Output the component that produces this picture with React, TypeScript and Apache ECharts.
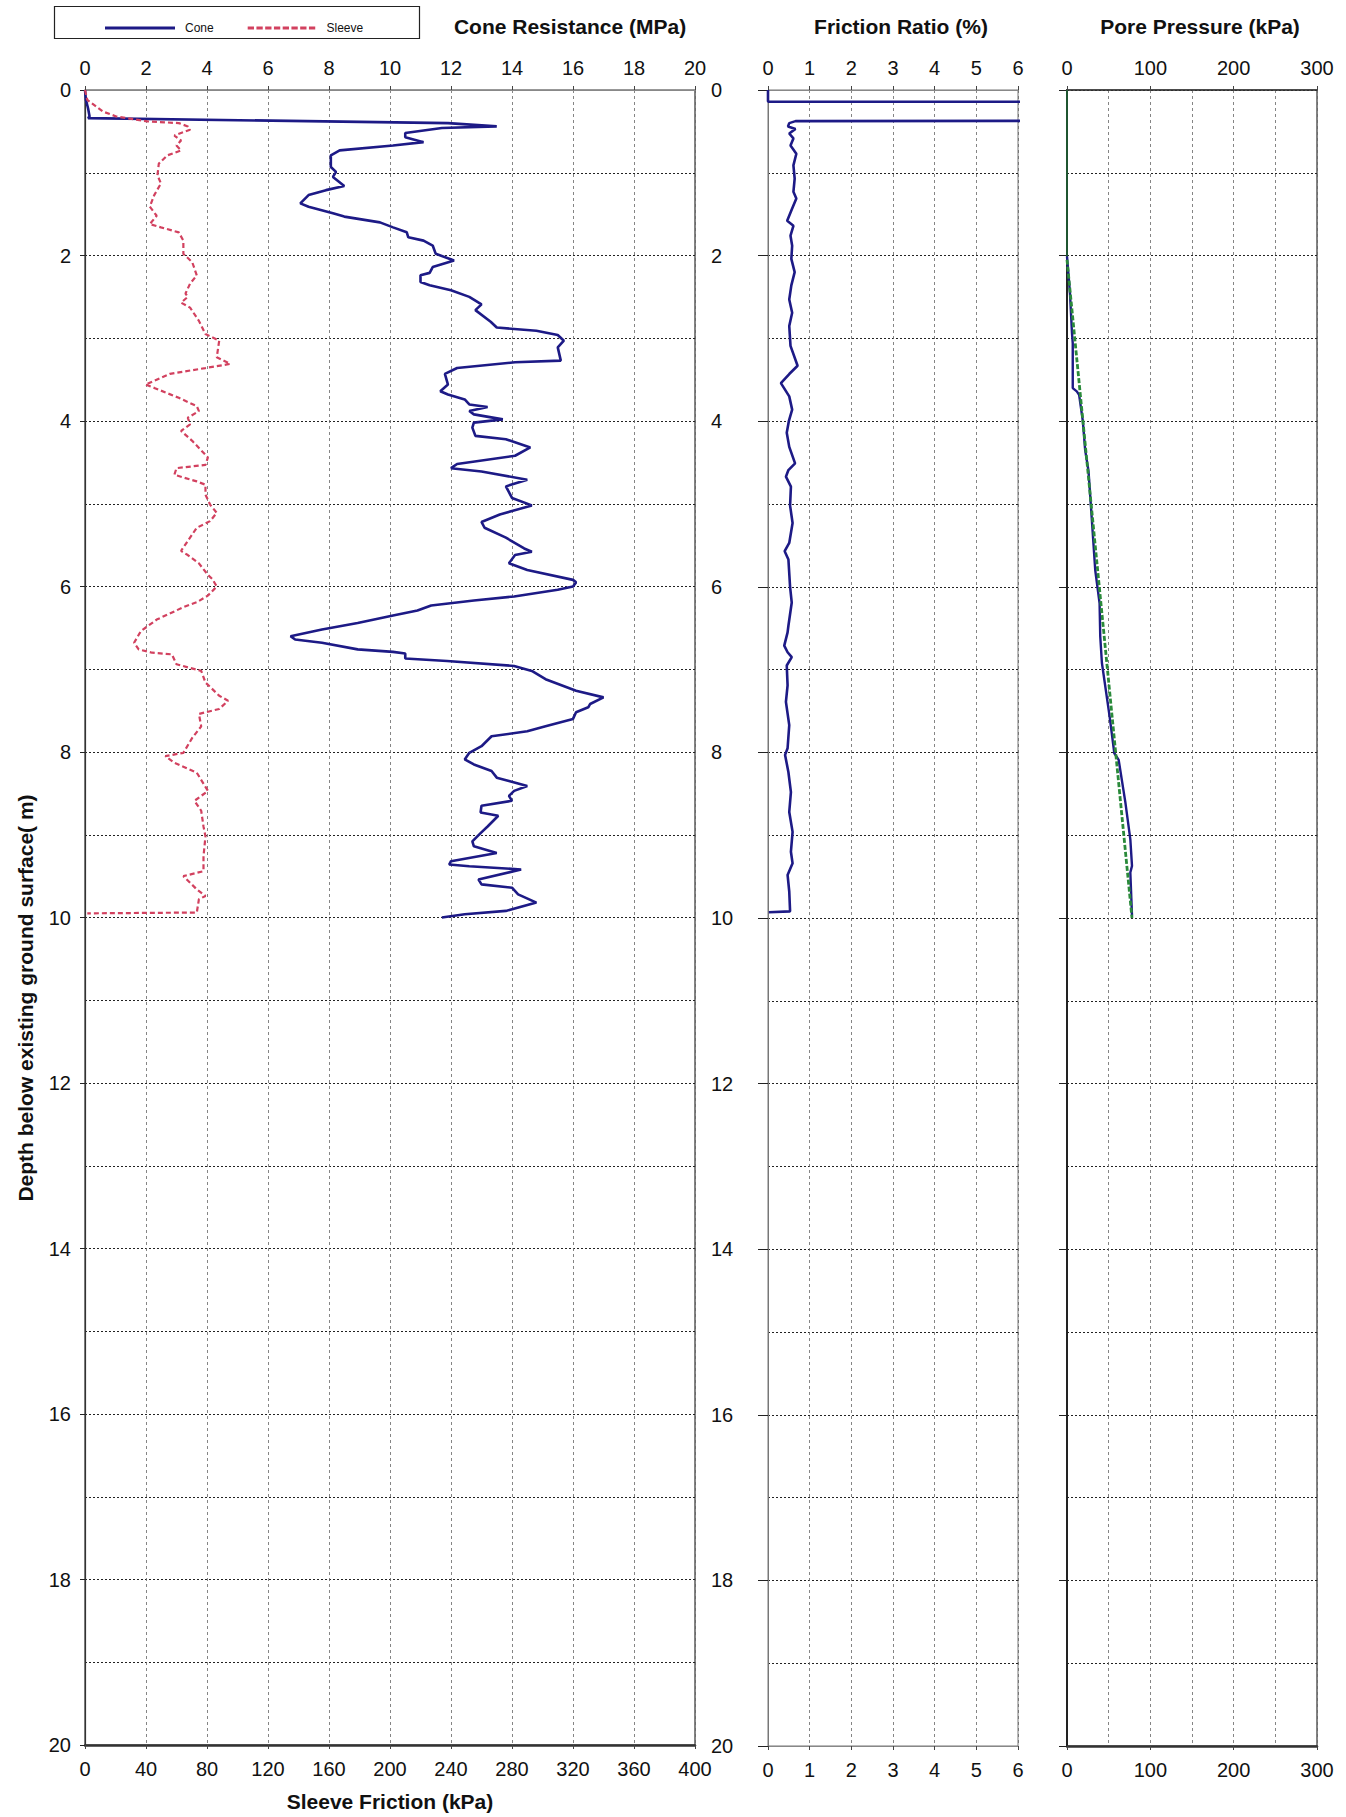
import React, { useEffect, useRef } from "react";
import * as echarts from "echarts";

const FONT = '"Liberation Sans", Arial, Helvetica, sans-serif';

// [cone resistance MPa, depth m]
const coneData: number[][] = [
  [0, 0], [0.03, 0.12], [0.1, 0.22], [0.15, 0.32], [0.1, 0.34], [11.9, 0.4], [13.5, 0.44], [11.7, 0.46],
  [10.5, 0.52], [10.5, 0.57], [11.1, 0.63], [10.1, 0.67], [8.35, 0.73], [8.06, 0.79], [8.06, 0.93],
  [8.23, 0.99], [8.13, 1.05], [8.5, 1.16], [7.9, 1.21], [7.33, 1.27], [7.06, 1.37], [7.33, 1.41],
  [8.13, 1.49], [8.5, 1.53], [9.67, 1.6], [10.1, 1.66], [10.55, 1.72], [10.6, 1.78], [11.1, 1.82],
  [11.4, 1.88], [11.5, 1.98], [12.1, 2.06], [11.4, 2.14], [11.3, 2.21], [11.0, 2.24], [11.0, 2.32],
  [11.3, 2.36], [12.0, 2.42], [12.6, 2.5], [13.0, 2.59], [12.8, 2.66], [13.3, 2.8], [13.5, 2.87],
  [14.8, 2.91], [15.5, 2.96], [15.7, 3.03], [15.5, 3.11], [15.6, 3.27], [14.1, 3.29], [12.2, 3.36],
  [11.8, 3.43], [11.9, 3.56], [11.65, 3.64], [11.9, 3.68], [12.45, 3.74], [12.6, 3.8], [13.2, 3.83],
  [12.6, 3.88], [12.75, 3.92], [13.7, 3.98], [12.75, 4.02], [12.7, 4.08], [12.8, 4.18], [13.8, 4.22],
  [14.6, 4.32], [14.1, 4.42], [12.2, 4.52], [12.0, 4.57], [13.0, 4.61], [14.5, 4.71], [13.8, 4.79],
  [13.9, 4.86], [14.0, 4.93], [14.65, 5.02], [13.6, 5.13], [13.0, 5.22], [13.1, 5.29], [13.8, 5.41],
  [14.4, 5.54], [14.65, 5.58], [14.1, 5.62], [13.9, 5.72], [14.5, 5.8], [16.0, 5.92], [16.1, 5.95],
  [16.0, 6.0], [15.5, 6.04], [14.07, 6.12], [12.75, 6.17], [11.35, 6.23], [10.9, 6.29], [10.1, 6.35],
  [8.94, 6.44], [7.77, 6.52], [6.74, 6.6], [6.89, 6.64], [7.77, 6.68], [8.94, 6.76], [10.1, 6.79],
  [10.5, 6.81], [10.5, 6.87], [11.87, 6.9], [14.07, 6.96], [14.65, 7.02], [15.1, 7.12], [16.1, 7.26],
  [17.0, 7.34], [16.56, 7.42], [16.5, 7.46], [16.1, 7.52], [16.0, 7.6], [15.1, 7.69], [14.5, 7.75],
  [13.33, 7.81], [13.0, 7.93], [12.6, 8.01], [12.45, 8.09], [12.75, 8.15], [13.33, 8.23], [13.5, 8.31],
  [13.9, 8.35], [14.5, 8.41], [14.07, 8.47], [13.9, 8.53], [14.0, 8.59], [13.0, 8.65], [12.97, 8.73],
  [13.55, 8.77], [13.2, 8.9], [12.97, 8.98], [12.7, 9.08], [12.75, 9.14], [13.5, 9.22], [12.0, 9.32],
  [11.94, 9.36], [12.6, 9.38], [14.3, 9.42], [12.9, 9.54], [13.0, 9.6], [14.0, 9.64], [14.2, 9.72],
  [14.8, 9.82], [13.8, 9.92], [12.45, 9.96], [11.7, 10.0],
];

// [sleeve friction kPa, depth m]
const sleeveData: number[][] = [
  [0, 0], [1.5, 0.12], [5.9, 0.18], [11.7, 0.26], [20.5, 0.32], [41, 0.38], [61.5, 0.4], [67.4, 0.44],
  [68.9, 0.48], [58.6, 0.55], [63, 0.61], [60, 0.67], [63, 0.73], [54, 0.79], [48.4, 0.89], [47.5, 1.03],
  [49.8, 1.13], [45.4, 1.27], [42.5, 1.41], [47, 1.52], [42.5, 1.62], [49.8, 1.66], [61.5, 1.72],
  [64.5, 1.82], [64.5, 1.98], [70.3, 2.08], [73.3, 2.24], [68.9, 2.34], [65.9, 2.46], [67.4, 2.5],
  [63, 2.57], [68.9, 2.63], [74.7, 2.79], [79, 2.95], [88, 3.03], [86.4, 3.23], [95.2, 3.31], [79, 3.36],
  [55.7, 3.43], [39.6, 3.56], [45.4, 3.6], [61.5, 3.72], [73.3, 3.82], [74.7, 3.88], [67.4, 3.96],
  [68.9, 4.04], [63, 4.12], [70.3, 4.24], [80.6, 4.44], [79, 4.53], [60, 4.57], [58.6, 4.65], [73.3, 4.73],
  [79, 4.77], [79, 4.89], [82, 5.01], [86.4, 5.11], [82, 5.21], [73.3, 5.29], [67.4, 5.45], [63, 5.57],
  [67.4, 5.62], [74.7, 5.72], [80.6, 5.86], [83.5, 5.91], [86.4, 6.0], [80.6, 6.11], [73.3, 6.19],
  [64.5, 6.25], [47, 6.4], [36.6, 6.54], [32.2, 6.68], [35.2, 6.76], [44, 6.8], [57, 6.82], [60, 6.94],
  [76.2, 7.02], [79, 7.16], [88, 7.32], [93.8, 7.38], [88, 7.48], [74.7, 7.54], [76.2, 7.69], [70.3, 7.83],
  [64.5, 8.01], [52.7, 8.05], [58.6, 8.13], [73.3, 8.25], [80.6, 8.47], [71.8, 8.59], [76.2, 8.71],
  [77.7, 8.9], [79, 9.02], [77.7, 9.26], [77.7, 9.44], [64.5, 9.5], [73.3, 9.66], [79, 9.74], [74.7, 9.78],
  [73.3, 9.94], [1.5, 9.95],
];

// [friction ratio %, depth m]
const frictionData: number[][] = [
  [0, 0], [0, 0.14], [60, 0.155], [60, 0.345], [0.66, 0.376], [0.51, 0.4], [0.48, 0.44], [0.66, 0.47],
  [0.51, 0.525], [0.61, 0.585], [0.54, 0.67], [0.68, 0.77], [0.61, 0.91], [0.64, 1.07], [0.61, 1.23],
  [0.68, 1.31], [0.58, 1.43], [0.46, 1.58], [0.61, 1.64], [0.54, 1.76], [0.58, 1.88], [0.56, 2.04],
  [0.64, 2.2], [0.56, 2.36], [0.51, 2.53], [0.58, 2.69], [0.51, 2.85], [0.54, 3.09], [0.71, 3.33],
  [0.51, 3.43], [0.31, 3.54], [0.51, 3.7], [0.58, 3.86], [0.5, 4.0], [0.45, 4.14], [0.51, 4.31],
  [0.65, 4.51], [0.49, 4.59], [0.43, 4.67], [0.55, 4.79], [0.53, 5.02], [0.59, 5.23], [0.51, 5.47],
  [0.4, 5.57], [0.49, 5.67], [0.53, 6.0], [0.57, 6.19], [0.49, 6.47], [0.47, 6.55], [0.39, 6.71],
  [0.47, 6.79], [0.57, 6.85], [0.45, 6.95], [0.47, 7.19], [0.43, 7.39], [0.51, 7.67], [0.47, 7.95],
  [0.41, 8.03], [0.49, 8.24], [0.55, 8.48], [0.51, 8.72], [0.59, 8.96], [0.55, 9.2], [0.59, 9.34],
  [0.47, 9.48], [0.51, 9.68], [0.53, 9.92], [0.02, 9.93],
];

// [pore pressure kPa, depth m]
const poreData: number[][] = [
  [0, 2.01], [3.6, 2.46], [6, 2.94], [6.9, 3.06], [6.9, 3.6], [11.7, 3.64], [14.5, 3.68], [19, 4.0],
  [21.8, 4.35], [25.8, 4.6], [28.6, 5.01], [33.9, 5.8], [39.1, 6.2], [39.9, 6.6], [41.9, 6.92],
  [51.2, 7.57], [56.8, 8.01], [62, 8.09], [70, 8.6], [76, 9.05], [78, 9.37], [76, 9.45], [78, 9.97],
];
const hydroData: number[][] = [[0, 2.05], [78, 10.0]];
const dryData: number[][] = [[0, 0], [0, 2.05]];

const coneTicks = { min: 0, max: 20, step: 2 };
const sleeveTicks = { min: 0, max: 400, step: 40 };
const ratioTicks = { min: 0, max: 6, step: 1 };
const poreTicks = { min: 0, max: 300, step: 100 };
const depthTicks = { min: 0, max: 20, step: 2 };

const legendNames = ["Cone", "Sleeve"];

const labelStyle = { color: "#111", fontFamily: FONT, fontSize: 20 };
const hGrid = { show: true, lineStyle: { color: "#222", width: 1, type: [2, 2] as any } };
const vGrid = { show: true, lineStyle: { color: "#666", width: 0.8, type: [3, 3] as any } };

const solidIcon = "path://M0,0H100V4H0Z";
const dashedIcon =
  "path://M0,0h9v4h-9z M12.5,0h9v4h-9z M25,0h9v4h-9z M37.5,0h9v4h-9z M50,0h9v4h-9z M62.5,0h9v4h-9z M75,0h9v4h-9z M87.5,0h9v4h-9z";

function xAxisDef(grid: number, pos: "top" | "bottom", t: any, opts: any = {}) {
  return {
    type: "value",
    gridIndex: grid,
    position: pos,
    min: t.min,
    max: t.max,
    interval: t.step,
    axisLabel: { ...labelStyle, margin: pos === "top" ? 12 : 14 },
    axisTick: { show: true, length: 4, lineStyle: { color: "#444" } },
    splitLine: pos === "top" ? vGrid : { show: false },
    ...opts,
  };
}

function yAxisDef(grid: number, opts: any = {}) {
  return {
    type: "value",
    gridIndex: grid,
    inverse: true,
    min: depthTicks.min,
    max: depthTicks.max,
    interval: depthTicks.step,
    axisLine: { show: true, lineStyle: { color: "#333", width: 1.2 } },
    axisTick: { show: true, length: 5, lineStyle: { color: "#222" } },
    minorTick: { show: false, splitNumber: 2 },
    splitLine: hGrid,
    minorSplitLine: hGrid,
    ...opts,
  };
}

export default function App() {
  const ref = useRef<HTMLDivElement>(null);
  useEffect(() => {
    if (!ref.current) return;
    const chart = echarts.init(ref.current, null, { renderer: "svg" });
    const blue = "#1d1a86";
    const red = "#d2415f";
    const option: any = {
      animation: false,
      backgroundColor: "#fff",
      textStyle: { fontFamily: FONT },
      legend: {
        data: [
          { name: legendNames[0], icon: solidIcon },
          { name: legendNames[1], icon: dashedIcon },
        ],
        left: 100,
        top: 17,
        itemWidth: 80,
        itemHeight: 2.8,
        itemGap: 34,
        textStyle: { fontFamily: FONT, fontSize: 12, color: "#111" },
      },
      grid: [
        { left: 85, top: 90, width: 610, height: 1656, show: true, borderColor: "#333", borderWidth: 1.2, backgroundColor: "transparent" },
        { left: 768, top: 90, width: 250, height: 1656, show: true, borderColor: "#777", borderWidth: 1, backgroundColor: "transparent" },
        { left: 1067, top: 90, width: 250, height: 1656, show: true, borderColor: "#333", borderWidth: 1.2, backgroundColor: "transparent" },
      ],
      xAxis: [
        xAxisDef(0, "top", coneTicks, { axisLine: { lineStyle: { color: "#888", width: 1 } } }),
        xAxisDef(0, "bottom", sleeveTicks, {
          axisLine: { lineStyle: { color: "#333", width: 2.5 } },
          name: "Sleeve Friction (kPa)",
          nameLocation: "middle",
          nameGap: 46,
          nameTextStyle: { fontFamily: FONT, fontSize: 21, fontWeight: "bold", color: "#111" },
        }),
        xAxisDef(1, "top", ratioTicks, { axisLine: { lineStyle: { color: "#888", width: 1 } } }),
        xAxisDef(1, "bottom", ratioTicks, { axisLine: { lineStyle: { color: "#888", width: 1 } } }),
        xAxisDef(2, "top", poreTicks, {
          axisLine: { lineStyle: { color: "#333", width: 1.5 } },
          minorTick: { show: false, splitNumber: 2 },
          minorSplitLine: vGrid,
        }),
        xAxisDef(2, "bottom", poreTicks, { axisLine: { lineStyle: { color: "#333", width: 2.5 } } }),
      ],
      yAxis: [
        yAxisDef(0, { axisLabel: { ...labelStyle, margin: 14 } }),
        yAxisDef(1, {
          axisLine: { show: true, lineStyle: { color: "#777", width: 1 } },
          axisTick: { show: true, length: 10, lineStyle: { color: "#222" } },
          axisLabel: { ...labelStyle, margin: 57, align: "left" },
        }),
        yAxisDef(2, {
          axisLine: { show: true, lineStyle: { color: "#222", width: 2 } },
          axisTick: { show: true, length: 8, lineStyle: { color: "#222" } },
          axisLabel: { show: false },
        }),
      ],
      series: [
        {
          name: legendNames[0], type: "line", xAxisIndex: 0, yAxisIndex: 0, data: coneData, symbol: "none",
          lineStyle: { color: blue, width: 2.6 }, itemStyle: { color: blue },
        },
        {
          name: legendNames[1], type: "line", xAxisIndex: 1, yAxisIndex: 0, data: sleeveData, symbol: "none",
          lineStyle: { color: red, width: 2.2, type: [5, 3] }, itemStyle: { color: red },
        },
        {
          name: "Friction Ratio", type: "line", xAxisIndex: 2, yAxisIndex: 1, data: frictionData, symbol: "none",
          clip: true, lineStyle: { color: blue, width: 2.6 }, itemStyle: { color: blue },
        },
        {
          name: "Dry", type: "line", xAxisIndex: 4, yAxisIndex: 2, data: dryData, symbol: "none",
          lineStyle: { color: "#1f7a3c", width: 1.2 },
        },
        {
          name: "Pore Pressure", type: "line", xAxisIndex: 4, yAxisIndex: 2, data: poreData, symbol: "none",
          lineStyle: { color: blue, width: 2.4 },
        },
        {
          name: "Hydrostatic", type: "line", xAxisIndex: 4, yAxisIndex: 2, data: hydroData, symbol: "none",
          lineStyle: { color: "#2a8a3a", width: 2.8, type: [5, 2] },
        },
      ],
      graphic: [
        { type: "rect", x: 54.5, y: 6.5, shape: { x: 0, y: 0, width: 365, height: 32 }, style: { fill: "none", stroke: "#222", lineWidth: 1.2 } },
        { type: "text", x: 570, y: 26, style: { text: "Cone Resistance (MPa)", align: "center", verticalAlign: "middle", font: `bold 21px ${FONT}`, fill: "#111" } },
        { type: "text", x: 901, y: 26, style: { text: "Friction Ratio (%)", align: "center", verticalAlign: "middle", font: `bold 21px ${FONT}`, fill: "#111" } },
        { type: "text", x: 1200, y: 26, style: { text: "Pore Pressure (kPa)", align: "center", verticalAlign: "middle", font: `bold 21px ${FONT}`, fill: "#111" } },
        { type: "text", x: 25, y: 998, rotation: Math.PI / 2, style: { text: "Depth below existing ground surface( m)", align: "center", verticalAlign: "middle", font: `bold 21px ${FONT}`, fill: "#111" } },
      ],
    };
    chart.setOption(option);
    return () => chart.dispose();
  }, []);
  return <div ref={ref} style={{ position: "absolute", left: 0, top: 0, width: 1346, height: 1817, background: "#fff" }} />;
}
